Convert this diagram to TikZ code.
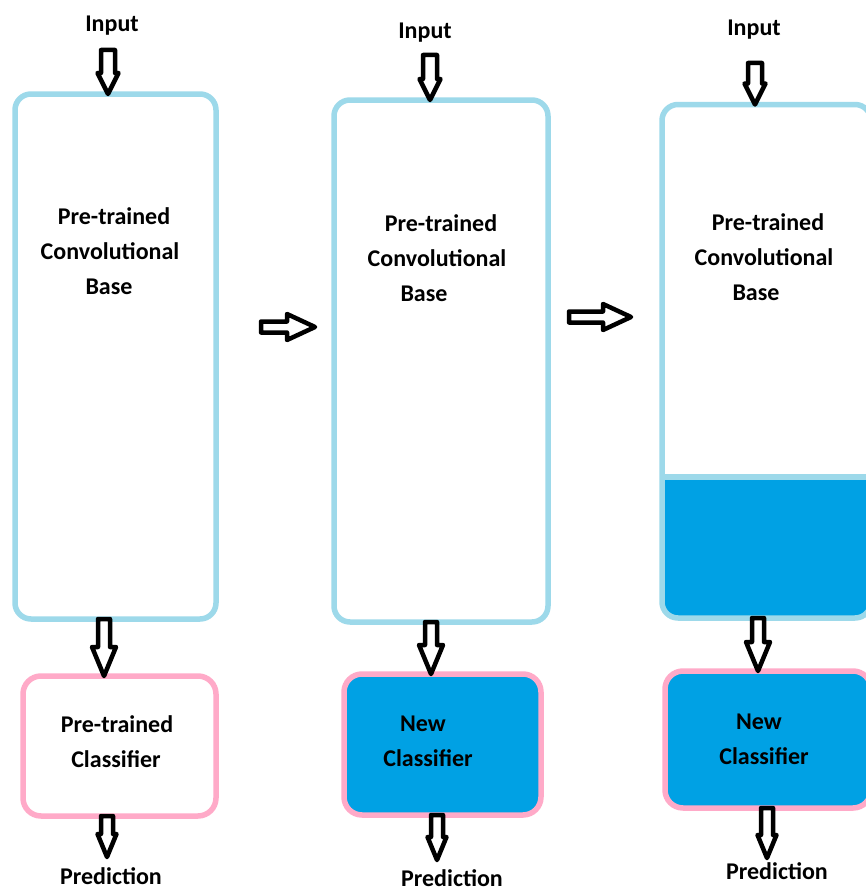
\documentclass[tikz,border=0pt]{standalone}
\usepackage{fontspec}
\setmainfont{Carlito}
\usetikzlibrary{calc}

\definecolor{frameblue}{RGB}{157,217,234}
\definecolor{framepink}{RGB}{255,170,200}
\definecolor{fillblue}{RGB}{0,161,228}

\tikzset{
  basebox/.style={draw=frameblue, line width=5.5pt, rounded corners=16pt,
    outer sep=0pt, inner sep=0pt},
  clsbox/.style={draw=framepink, line width=5.5pt, rounded corners=18pt,
    outer sep=0pt, inner sep=0pt},
  txt/.style={font=\bfseries\fontsize{24}{28}\selectfont, inner sep=0pt, anchor=base},
  blockarrow/.style={draw=black, fill=white, line width=4.5pt, line join=round},
}

% hollow block arrow pointing down: #1 start, #2 tip, #3 shaft half-width,
% #4 head half-width, #5 head length
\newcommand\blockdown[5]{%
  \draw[blockarrow] let \p1=#1, \p2=#2 in
    (\x1-#3pt,\y1) -- (\x1+#3pt,\y1) -- (\x1+#3pt,\y2+#5pt) -- (\x1+#4pt,\y2+#5pt)
    -- (\x1,\y2) -- (\x1-#4pt,\y2+#5pt) -- (\x1-#3pt,\y2+#5pt) -- cycle;}

% hollow block arrow pointing right, same parameters
\newcommand\blockright[5]{%
  \draw[blockarrow] let \p1=#1, \p2=#2 in
    (\x1,\y1-#3pt) -- (\x1,\y1+#3pt) -- (\x2-#5pt,\y1+#3pt) -- (\x2-#5pt,\y1+#4pt)
    -- (\x2,\y1) -- (\x2-#5pt,\y1-#4pt) -- (\x2-#5pt,\y1-#3pt) -- cycle;}

\begin{document}
\begin{tikzpicture}[x=1pt, y=-1pt]
  \useasboundingbox (0,0) rectangle (865,891);
  \fill[white] (0,0) rectangle (865,891);

  % ---------- column 1: pre-trained model ----------
  \node[basebox, minimum width=201pt, minimum height=525pt] (box1) at (115.5,356.5) {};
  \node[clsbox, minimum width=193pt, minimum height=140pt] (cls1) at (119.5,746) {};

  \node[txt] (in1) at (112,32) {Input};
  \node[txt] (b1a) at (114,224) {Pre-trained};
  \node[txt] (b1b) at (110,259) {Convolutional};
  \node[txt] (b1c) at (109,294) {Base};
  \node[txt] (c1a) at (117,732) {Pre-trained};
  \node[txt] (c1b) at (116,767) {Classifier};
  \node[txt] (p1) at (111,884) {Prediction};

  % ---------- column 2: frozen base, new classifier ----------
  \node[basebox, minimum width=214pt, minimum height=522pt] (box2) at (441,361) {};
  \node[clsbox, fill=fillblue, minimum width=197pt, minimum height=141pt] (cls2) at (442.5,744.5) {};

  \node[txt] (in2) at (425,38) {Input};
  \node[txt] (b2a) at (441,231) {Pre-trained};
  \node[txt] (b2b) at (437,266) {Convolutional};
  \node[txt] (b2c) at (424,301) {Base};
  \node[txt] (c2a) at (423,731) {New};
  \node[txt] (c2b) at (428,766) {Classifier};
  \node[txt] (p2) at (452,886) {Prediction};

  % ---------- column 3: partly retrained base, new classifier ----------
  \begin{scope}
    \clip (600,477) rectangle (900,700);
    \fill[fillblue, rounded corners=16pt] (662,104.5) rectangle (871,618);
  \end{scope}
  \draw[frameblue, line width=5.5pt] (662,477) -- (871,477);
  \node[basebox, minimum width=209pt, minimum height=513.5pt] (box3) at (766.5,361.25) {};
  \node[clsbox, fill=fillblue, minimum width=206pt, minimum height=137pt] (cls3) at (768,739.5) {};

  \node[txt] (in3) at (754,36) {Input};
  \node[txt] (b3a) at (768,230) {Pre-trained};
  \node[txt] (b3b) at (764,265) {Convolutional};
  \node[txt] (b3c) at (756,300) {Base};
  \node[txt] (c3a) at (759,729) {New};
  \node[txt] (c3b) at (764,764) {Classifier};
  \node[txt] (p3) at (777,879) {Prediction};

  % ---------- arrow axes and free ends ----------
  \coordinate (ta1) at (108,50);
  \coordinate (ta2) at (430,55);
  \coordinate (ta3) at (755,63);
  \coordinate (ma1) at (104,0);
  \coordinate (ma2) at (431,0);
  \coordinate (ma3) at (758,0);
  \coordinate (ba1) at (107,857);
  \coordinate (ba2) at (437,860);
  \coordinate (ba3) at (767,858);
  \coordinate (h1a) at (261,327);
  \coordinate (h1b) at (315,327);
  \coordinate (h2a) at (569,317);
  \coordinate (h2b) at (631,317);

  % input arrows
  \blockdown{(ta1)}{(ta1 |- box1.north)}{7}{10.5}{21}
  \blockdown{(ta2)}{(ta2 |- box2.north)}{7}{10.5}{21}
  \blockdown{(ta3)}{(ta3 |- box3.north)}{7}{10.5}{21}

  % base -> classifier arrows
  \blockdown{(ma1 |- box1.south)}{(ma1 |- cls1.north)}{6}{12}{29}
  \blockdown{(ma2 |- box2.south)}{(ma2 |- cls2.north)}{6}{12}{29}
  \blockdown{(ma3 |- box3.south)}{(ma3 |- cls3.north)}{6}{12}{29}

  % classifier -> prediction arrows
  \blockdown{(ba1 |- cls1.south)}{(ba1)}{6}{9.5}{23}
  \blockdown{(ba2 |- cls2.south)}{(ba2)}{6}{9.5}{23}
  \blockdown{(ba3 |- cls3.south)}{(ba3)}{6}{9.5}{23}

  % arrows between the stages
  \blockright{(h1a)}{(h1b)}{5.5}{13}{28}
  \blockright{(h2a)}{(h2b)}{5.5}{13}{28}
\end{tikzpicture}
\end{document}
